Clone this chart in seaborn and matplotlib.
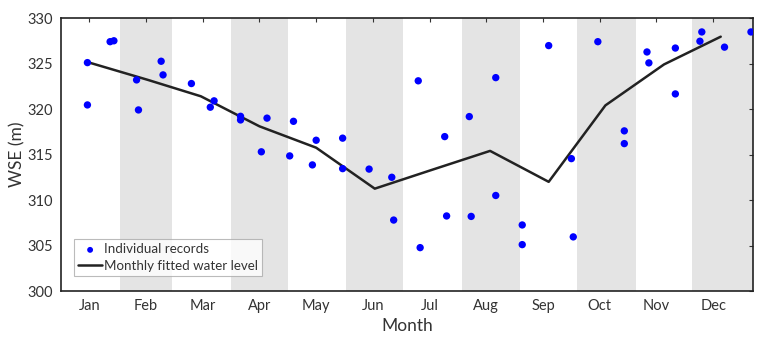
import numpy as np
import pandas as pd
import matplotlib
matplotlib.use("Agg")
import matplotlib.pyplot as plt
import seaborn as sns

# individual WSE records (day of year, metres)
record_day = [14, 14, 26, 28, 40, 41, 53, 54, 69, 79, 81, 95, 95, 106, 109,
              121, 123, 133, 135, 149, 149, 163, 175, 176, 189, 190, 203, 204,
              216, 217, 230, 230, 244, 244, 258, 270, 271, 284, 298, 298, 310,
              311, 325, 325, 338, 339, 351, 365]
record_wse = [325.1, 320.45, 327.4, 327.5, 323.2, 319.9, 325.25, 323.75, 322.8,
              320.2, 320.9, 319.2, 318.8, 315.3, 319.0, 314.85, 318.65, 313.86,
              316.57, 316.8, 313.45, 313.4, 312.5, 307.8, 323.1, 304.77, 316.97,
              308.25, 319.17, 308.2, 323.45, 310.5, 307.26, 305.1, 326.97, 314.55,
              305.95, 327.4, 317.6, 316.2, 326.27, 325.07, 326.7, 321.66, 327.45,
              328.47, 326.8, 328.47]

# monthly fitted water level, at the 15th of each month
fit_day = [15, 46, 74, 105, 135, 166, 196, 227, 258, 288, 319, 349]
fit_wse = [325.1, 323.2, 321.4, 318.1, 315.75, 311.25, 313.3, 315.4, 312.0,
           320.4, 324.9, 327.95]

month_labels = ["Jan", "Feb", "Mar", "Apr", "May", "Jun",
                "Jul", "Aug", "Sep", "Oct", "Nov", "Dec"]
month_start = [0, 31, 59, 90, 120, 151, 181, 212, 243, 273, 304, 334, 366]

records = pd.DataFrame({"day": record_day, "wse": record_wse})
fitted = pd.DataFrame({"day": fit_day, "wse": fit_wse})

sns.set_style("white")
plt.rcParams["font.family"] = ["Lato", "DejaVu Sans"]

fig = plt.figure(figsize=(7.62, 3.4), dpi=100)
ax = fig.add_axes([0.080, 0.144, 0.908, 0.803])

# shaded bands for every second month
for i in range(1, 12, 2):
    ax.axvspan(month_start[i], month_start[i + 1], color="#e4e4e4", lw=0, zorder=0)

sns.scatterplot(data=records, x="day", y="wse", ax=ax, color="#0000ff",
                s=28, edgecolor="none", label="Individual records", zorder=3)
sns.lineplot(data=fitted, x="day", y="wse", ax=ax, color="#222222",
             linewidth=1.8, label="Monthly fitted water level", zorder=2)

ax.set_xlim(0, 366)
ax.set_ylim(300, 330)
ax.set_xticks([15 + 30 * i for i in range(12)])
ax.set_xticklabels(month_labels)
ax.set_yticks(range(300, 331, 5))
ax.tick_params(direction="in", length=3, width=0.8, top=True, right=True,
               labelsize=10.5, labelcolor="#333333", color="#333333", pad=6)
for s in ax.spines.values():
    s.set_color("#222222")
    s.set_linewidth(1.2)

ax.set_xlabel("Month", fontsize=12.5, color="#333333", labelpad=3)
ax.set_ylabel("WSE (m)", fontsize=12.5, color="#333333", labelpad=1)

leg = ax.legend(loc="lower left", bbox_to_anchor=(0.019, 0.055), fontsize=9.6,
                frameon=True, fancybox=False, borderpad=0.3, handlelength=1.8,
                handletextpad=0.15, labelspacing=0.35, borderaxespad=0,
                markerscale=0.8)
leg.get_frame().set_edgecolor("#aaaaaa")
leg.get_frame().set_linewidth(0.8)
for t in leg.get_texts():
    t.set_color("#333333")

fig.savefig("out.png", dpi=100)
